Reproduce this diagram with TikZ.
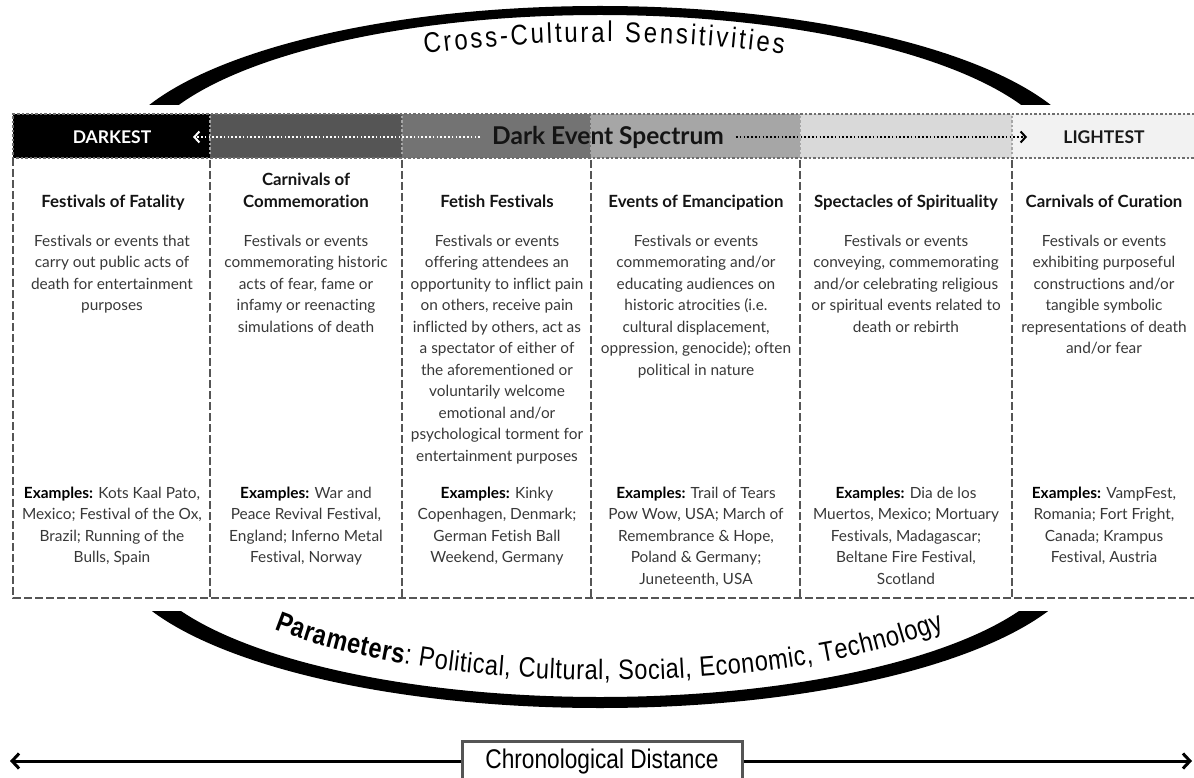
\documentclass[tikz,border=0pt]{standalone}
\usepackage{fontspec}
\setmainfont{Lato}[Ligatures=NoCommon]
\newfontfamily\narrowfont[FakeStretch=0.84]{Liberation Sans}
\usetikzlibrary{arrows.meta,decorations.text}
\definecolor{hdA}{HTML}{000000}
\definecolor{hdB}{HTML}{555555}
\definecolor{hdC}{HTML}{737373}
\definecolor{hdD}{HTML}{A6A6A6}
\definecolor{hdE}{HTML}{D9D9D9}
\definecolor{hdF}{HTML}{F2F2F2}
\definecolor{linegray}{HTML}{555555}
\definecolor{desctext}{HTML}{383838}
\begin{document}
\begin{tikzpicture}[x=1pt,y=-1pt,
  tbl/.style={draw=linegray, line width=2.8pt, dash pattern=on 8pt off 3pt},
  hdot/.style={draw=linegray!85, line width=2.6pt, dash pattern=on 2.5pt off 2pt},
  hsep/.style={draw=gray!70, line width=2pt, dash pattern=on 2.5pt off 2pt},
  coltitle/.style={font=\bfseries\fontsize{16.8}{22.5}\selectfont, align=center, anchor=north, inner sep=0pt, text=black!92},
  desc/.style={font=\fontsize{15.4}{21.5}\selectfont, align=center, anchor=north, inner sep=0pt, text=desctext},
  dotarrow/.style={line width=2pt, dash pattern=on 1.6pt off 2.2pt, -{Straight Barb[length=5pt,width=11pt,line width=2pt]}},
  timearrow/.style={draw=black, line width=3pt, -{Straight Barb[length=7pt,width=15pt,line width=3pt]}},
  endlabel/.style={font=\bfseries\fontsize{17.5}{19}\selectfont}
]
\useasboundingbox (0,0) rectangle (1194,778);

% upper arc
\begin{scope}
  \clip (0,0) rectangle (1194,105);
  \fill[black, even odd rule] (600,169) ellipse [x radius=490pt, y radius=163pt]
                              (600,169) ellipse [x radius=463pt, y radius=154pt];
\end{scope}
% lower arc
\begin{scope}
  \clip (0,611) rectangle (1194,778);
  \fill[black, even odd rule] (600,545) ellipse [x radius=490pt, y radius=163pt]
                              (600,545) ellipse [x radius=465pt, y radius=152pt];
\end{scope}

% curved texts
\path[decorate, decoration={text along path, text align=fit to path,
  text={|\narrowfont\fontsize{28.5}{28.5}\selectfont|Cross-Cultural Sensitivities}}]
  ({604+424*cos(115)},{169-127*sin(115)}) arc[start angle=115, end angle=65, x radius=424pt, y radius=127pt];
\path[decorate, decoration={text along path, text align=fit to path,
  text={|\narrowfont\bfseries\fontsize{28}{28}\selectfont|Parameters|\narrowfont\mdseries\fontsize{28}{28}\selectfont|: Political, Cultural, Social, Economic, Technology}}]
  ({609+428*cos(218.5)},{545-135*sin(218.5)}) arc[start angle=218.5, end angle=321.5, x radius=428pt, y radius=135pt];

% header fills
\fill[hdA] (13,114) rectangle (210,158);
\fill[hdB] (210,114) rectangle (402,158);
\fill[hdC] (402,114) rectangle (591,158);
\fill[hdD] (591,114) rectangle (800,158);
\fill[hdE] (800,114) rectangle (1012,158);
\fill[hdF] (1012,114) rectangle (1194,158);

% header borders
\foreach \x in {210,402,591,800,1012} \draw[hsep] (\x,116) -- (\x,156);
\draw[hdot] (1194,114) -- (13,114) -- (13,158) -- (1194,158);

% table body
\draw[tbl] (13,158) -- (13,598) -- (1194,598);
\foreach \x in {210,402,591,800,1012} \draw[tbl] (\x,160) -- (\x,598);

% header labels and spectrum arrows
\node[endlabel, text=white] (darkest) at (112,137) {DARKEST};
\node[endlabel, text=black!90] (lightest) at (1104,137) {LIGHTEST};
\node[font=\bfseries\fontsize{24.5}{27}\selectfont, text=black!92, inner xsep=12pt, inner ysep=0pt] (spec) at (608,137) {Dark Event Spectrum};
\coordinate (dleft) at (193,137);
\coordinate (dright) at (1027,137);
\draw[dotarrow, draw=white] (spec.west) -- (dleft);
\draw[dotarrow, draw=black] (spec.east) -- (dright);

% column titles
\node[coltitle] (t1) at (113,195) {Festivals of Fatality};
\node[coltitle] (t2) at (306,172.5) {Carnivals of\\Commemoration};
\node[coltitle] (t3) at (497,195) {Fetish Festivals};
\node[coltitle] (t4) at (696,195) {Events of Emancipation};
\node[coltitle] (t5) at (906,195) {Spectacles of Spirituality};
\node[coltitle] (t6) at (1104,195) {Carnivals of Curation};

% descriptions
\node[desc] (d1) at (112,234.5) {Festivals or events that\\carry out public acts of\\death for entertainment\\purposes};
\node[desc] (d2) at (306,234.5) {Festivals or events\\commemorating historic\\acts of fear, fame or\\infamy or reenacting\\simulations of death};
\node[desc] (d3) at (497,234.5) {Festivals or events\\offering attendees an\\opportunity to inflict pain\\on others, receive pain\\inflicted by others, act as\\a spectator of either of\\the aforementioned or\\voluntarily welcome\\emotional and/or\\psychological torment for\\entertainment purposes};
\node[desc] (d4) at (696,234.5) {Festivals or events\\commemorating and/or\\educating audiences on\\historic atrocities (i.e.\\cultural displacement,\\oppression, genocide); often\\political in nature};
\node[desc] (d5) at (906,234.5) {Festivals or events\\conveying, commemorating\\and/or celebrating religious\\or spiritual events related to\\death or rebirth};
\node[desc] (d6) at (1104,234.5) {Festivals or events\\exhibiting purposeful\\constructions and/or\\tangible symbolic\\representations of death\\and/or fear};

% examples
\node[desc] (e1) at (112,486.5) {\textbf{\color{black}Examples:} Kots Kaal Pato,\\Mexico; Festival of the Ox,\\Brazil; Running of the\\Bulls, Spain};
\node[desc] (e2) at (306,486.5) {\textbf{\color{black}Examples:} War and\\Peace Revival Festival,\\England; Inferno Metal\\Festival, Norway};
\node[desc] (e3) at (497,486.5) {\textbf{\color{black}Examples:} Kinky\\Copenhagen, Denmark;\\German Fetish Ball\\Weekend, Germany};
\node[desc] (e4) at (696,486.5) {\textbf{\color{black}Examples:} Trail of Tears\\Pow Wow, USA; March of\\Remembrance \& Hope,\\Poland \& Germany;\\Juneteenth, USA};
\node[desc] (e5) at (906,486.5) {\textbf{\color{black}Examples:} Dia de los\\Muertos, Mexico; Mortuary\\Festivals, Madagascar;\\Beltane Fire Festival,\\Scotland};
\node[desc] (e6) at (1104,486.5) {\textbf{\color{black}Examples:} VampFest,\\Romania; Fort Fright,\\Canada; Krampus\\Festival, Austria};

% chronological distance
\node[draw=linegray, line width=3pt, fill=white, minimum width=280pt, minimum height=42pt,
      font=\narrowfont\fontsize{27}{30}\selectfont, inner sep=0pt] (chrono) at (602,762) {Chronological Distance};
\coordinate (cleft) at (10,761);
\coordinate (cright) at (1192,761);
\draw[timearrow] (chrono.west |- cleft) -- (cleft);
\draw[timearrow] (chrono.east |- cright) -- (cright);
\end{tikzpicture}
\end{document}
